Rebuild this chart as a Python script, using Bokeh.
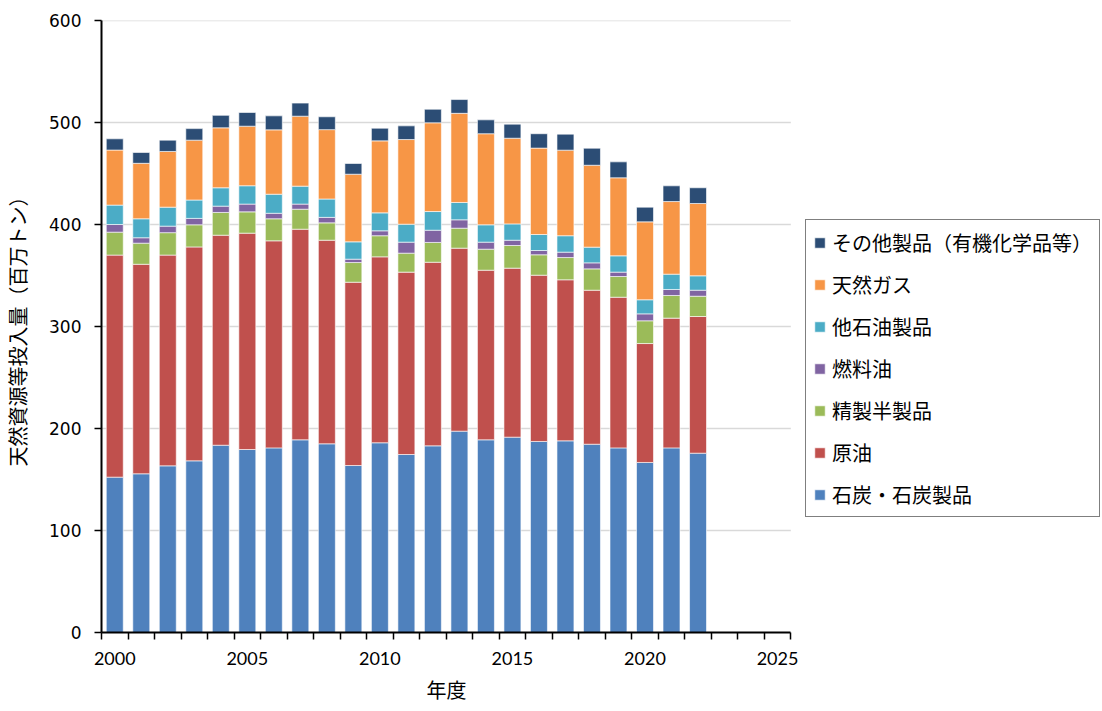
from bokeh.plotting import figure
from bokeh.models import (ColumnDataSource, Range1d, FixedTicker, Legend, LegendItem, Title)
from bokeh.embed import file_html
from bokeh.resources import INLINE

years = list(range(2000, 2023))
coal = [152.3, 155.6, 163.4, 168.3, 183.6, 179.4, 181.0, 188.9, 185.0, 163.7, 186.0, 174.5,
        183.0, 197.4, 188.9, 191.5, 187.3, 187.9, 184.6, 181.0, 166.7, 181.0, 175.8]
crude = [217.7, 205.4, 206.6, 209.7, 205.9, 212.1, 203.0, 206.5, 199.6, 179.7, 182.3, 178.8,
         180.0, 179.4, 166.3, 165.7, 163.0, 157.9, 151.0, 147.7, 116.6, 127.2, 134.0]
semi = [22.5, 20.7, 22.0, 21.7, 22.3, 20.9, 21.6, 19.6, 17.0, 19.3, 20.7, 18.6,
        19.4, 19.6, 20.6, 22.2, 20.0, 21.8, 20.9, 20.3, 22.3, 22.2, 19.9]
fuel_oil = [7.5, 5.3, 6.4, 6.3, 6.2, 7.6, 5.4, 5.0, 5.4, 3.3, 4.8, 10.8,
            12.0, 8.2, 6.9, 5.2, 4.2, 5.3, 5.9, 4.3, 6.8, 5.9, 5.9]
other_pet = [19.0, 18.6, 18.6, 18.0, 18.0, 18.0, 18.7, 17.6, 18.0, 17.0, 17.6, 17.6,
             18.3, 17.0, 17.0, 16.0, 15.7, 16.1, 15.4, 16.0, 13.8, 15.0, 14.1]
natgas = [54.0, 54.4, 54.6, 58.7, 58.8, 58.4, 63.1, 68.6, 68.0, 66.3, 70.6, 83.0,
          87.0, 87.4, 89.3, 84.0, 84.7, 83.9, 80.3, 76.5, 76.4, 71.2, 70.9]
other = [11.0, 10.6, 11.1, 11.3, 12.2, 13.4, 13.7, 12.8, 12.6, 10.5, 12.4, 13.4,
         13.3, 13.5, 13.6, 13.8, 14.1, 15.7, 16.7, 15.6, 14.4, 15.4, 15.4]

series_keys = ["coal", "crude", "semi", "fuel_oil", "other_pet", "natgas", "other"]
series_names = ["石炭・石炭製品", "原油", "精製半製品", "燃料油", "他石油製品", "天然ガス",
                "その他製品（有機化学品等）"]
colors = ["#4F81BD", "#C0504D", "#9BBB59", "#8064A2", "#4BACC6", "#F79646", "#2C4D75"]
x_tick_labels = [2000, 2005, 2010, 2015, 2020, 2025]
y_ticks = [0, 100, 200, 300, 400, 500, 600]
x_title = "年度"
y_title = "天然資源等投入量（百万トン）"

# axis domain (year slots) and layout geometry
X_START, X_END = 1999.5, 2025.5
W, H = 1102, 711
LEFT, TOP, BOTTOM = 100, 20, 79
AXIS_PX = 690                       # width of the year axis in pixels
frame_w = W - LEFT
x_view_end = X_START + (X_END - X_START) * frame_w / AXIS_PX

source = ColumnDataSource(dict(year=years, coal=coal, crude=crude, semi=semi,
                               fuel_oil=fuel_oil, other_pet=other_pet, natgas=natgas,
                               other=other))
grid_src = ColumnDataSource(dict(y=y_ticks[1:], x0=[X_START] * (len(y_ticks) - 1),
                                 x1=[X_END] * (len(y_ticks) - 1)))

JP = "Noto Sans CJK JP"

p = figure(width=W, height=H, output_backend="svg", toolbar_location=None,
           x_range=Range1d(X_START, x_view_end), y_range=Range1d(0, 600),
           min_border_left=LEFT, min_border_top=TOP, min_border_bottom=BOTTOM,
           min_border_right=0)
p.outline_line_color = None
p.background_fill_color = "white"
p.border_fill_color = "white"
p.xgrid.grid_line_color = None
p.ygrid.grid_line_color = None

p.segment(x0="x0", x1="x1", y0="y", y1="y", source=grid_src,
          line_color="#D9D9D9", line_width=1.5)

renderers = p.vbar_stack(series_keys, x="year", width=0.64, source=source,
                         color=colors, line_color="white", line_alpha=0.6, line_width=1)

# axes
p.xaxis.bounds = (X_START, X_END)
p.xaxis.ticker = FixedTicker(ticks=x_tick_labels,
                             minor_ticks=[y - 0.5 for y in range(2000, 2027)])
p.xaxis.major_tick_out = 0
p.xaxis.major_tick_in = 0
p.xaxis.minor_tick_out = 7
p.xaxis.minor_tick_in = 0
p.xaxis.minor_tick_line_color = "black"
p.xaxis.minor_tick_line_width = 1.5
p.xaxis.axis_line_color = "black"
p.xaxis.axis_line_width = 2
p.xaxis.major_label_standoff = 12
p.xaxis.major_label_text_font = "Lato"
p.xaxis.major_label_text_font_size = "18px"
p.xaxis.major_label_text_color = "black"

# x-axis title centred under the year axis (not under the whole frame)
title_w = 40
p.add_layout(Title(text=x_title, align="left", offset=AXIS_PX / 2 - title_w / 2,
                   text_font=JP, text_font_size="20px", text_font_style="normal",
                   text_color="black", standoff=10), "below")

p.yaxis.ticker = FixedTicker(ticks=y_ticks, minor_ticks=[])
p.yaxis.major_tick_out = 7
p.yaxis.major_tick_in = 0
p.yaxis.major_tick_line_color = "black"
p.yaxis.major_tick_line_width = 1.5
p.yaxis.minor_tick_out = 0
p.yaxis.axis_line_color = "black"
p.yaxis.axis_line_width = 2
p.yaxis.major_label_standoff = 13
p.yaxis.major_label_text_font = "DejaVu Sans"
p.yaxis.major_label_text_font_size = "17px"
p.yaxis.major_label_text_color = "black"
p.yaxis.axis_label = y_title
p.yaxis.axis_label_text_font = JP
p.yaxis.axis_label_text_font_size = "20px"
p.yaxis.axis_label_text_font_style = "normal"
p.yaxis.axis_label_text_color = "black"
p.yaxis.axis_label_standoff = 14

items = [LegendItem(label=n, renderers=[r]) for n, r in zip(series_names, renderers)]
items.reverse()
legend = Legend(items=items, location=(AXIS_PX + 14, 115), orientation="vertical",
                label_text_font=JP, label_text_font_size="20px", label_text_color="black",
                label_height=30, glyph_height=13, glyph_width=13, label_standoff=6,
                spacing=12, padding=7, margin=0,
                border_line_color="black", border_line_width=1.5,
                background_fill_color="white", background_fill_alpha=1)
p.add_layout(legend, "center")

open("out.html", "w").write(file_html(p, INLINE))
